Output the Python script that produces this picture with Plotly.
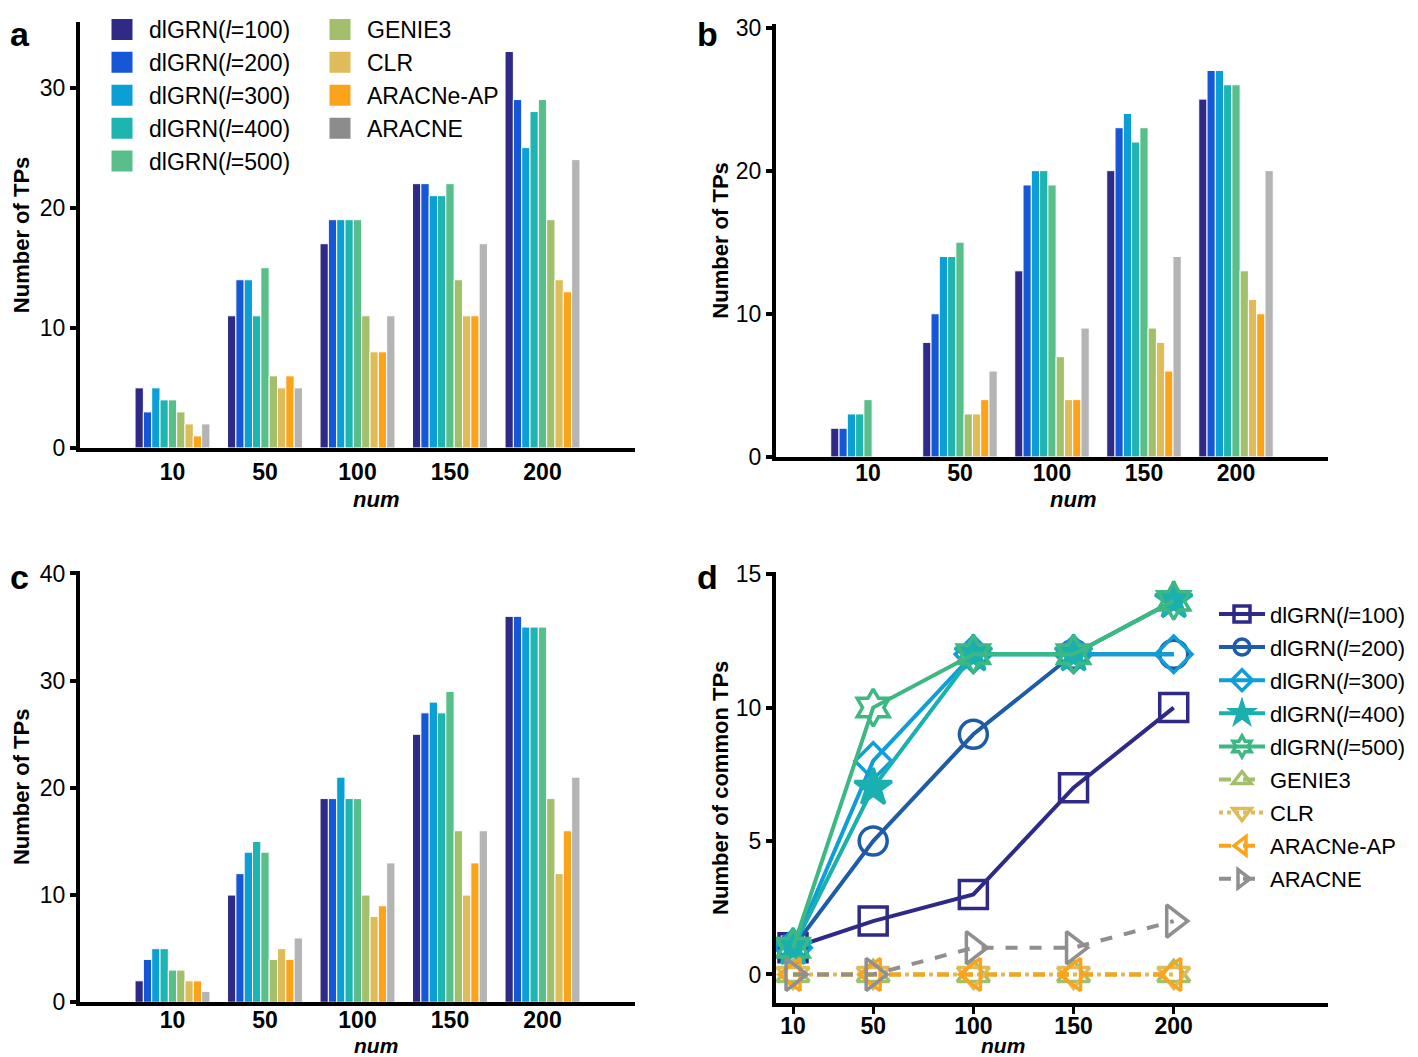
"""
dlGRN comparison figure: number of TPs (a-c) and common TPs (d)
"""
import plotly.graph_objects as go

W, H = 1418, 1057
OFFX, OFFY = 5, 8  # where the figure lands on the page
FW, FH = W - OFFX, H - OFFY

# ---- data ----
nums = ["10", "50", "100", "150", "200"]
nums_val = [10, 50, 100, 150, 200]
methods = ["dlGRN(<i>l</i>=100)", "dlGRN(<i>l</i>=200)", "dlGRN(<i>l</i>=300)",
           "dlGRN(<i>l</i>=400)", "dlGRN(<i>l</i>=500)", "GENIE3", "CLR",
           "ARACNe-AP", "ARACNE"]

# panel a: one list per method, over nums
a_dl100 = [5, 11, 17, 22, 33]
a_dl200 = [3, 14, 19, 22, 29]
a_dl300 = [5, 14, 19, 21, 25]
a_dl400 = [4, 11, 19, 21, 28]
a_dl500 = [4, 15, 19, 22, 29]
a_genie3 = [3, 6, 11, 14, 19]
a_clr = [2, 5, 8, 11, 14]
a_aracne_ap = [1, 6, 8, 11, 13]
a_aracne = [2, 5, 11, 17, 24]

# panel b
b_dl100 = [2, 8, 13, 20, 25]
b_dl200 = [2, 10, 19, 23, 27]
b_dl300 = [3, 14, 20, 24, 27]
b_dl400 = [3, 14, 20, 22, 26]
b_dl500 = [4, 15, 19, 23, 26]
b_genie3 = [0, 3, 7, 9, 13]
b_clr = [0, 3, 4, 8, 11]
b_aracne_ap = [0, 4, 4, 6, 10]
b_aracne = [0, 6, 9, 14, 20]

# panel c
c_dl100 = [2, 10, 19, 25, 36]
c_dl200 = [4, 12, 19, 27, 36]
c_dl300 = [5, 14, 21, 28, 35]
c_dl400 = [5, 15, 19, 27, 35]
c_dl500 = [3, 14, 19, 29, 35]
c_genie3 = [3, 4, 10, 16, 19]
c_clr = [2, 5, 8, 10, 12]
c_aracne_ap = [2, 4, 9, 13, 16]
c_aracne = [1, 6, 13, 16, 21]

# panel d: common TPs
d_dl100 = [1, 2, 3, 7, 10]
d_dl200 = [1, 5, 9, 12, 12]
d_dl300 = [1, 8, 12, 12, 12]
d_dl400 = [1, 7, 12, 12, 14]
d_dl500 = [1, 10, 12, 12, 14]
d_genie3 = [0, 0, 0, 0, 0]
d_clr = [0, 0, 0, 0, 0]
d_aracne_ap = [0, 0, 0, 0, 0]
d_aracne = [0, 0, 1, 1, 2]

# ---- styles ----
bar_colors = ["#2E2A86", "#1557D6", "#0AA0D6", "#1EB4B0", "#58BF8A",
              "#A2BF6B", "#DFBC5A", "#FCA31C", "#B4B4B4"]
legend_grey = "#8C8C8C"
line_colors = ["#2E2A86", "#1F5CA8", "#0E9ED8", "#1AB0B0", "#3DB883",
               "#A2BF6B", "#DFBC5A", "#FCA31C", "#8F8F8F"]
symbols = ["square-open", "circle-open", "diamond-open", "star", "hexagram-open",
           "triangle-up-open", "triangle-down-open", "triangle-left-open",
           "triangle-right-open"]
dashes = ["solid"] * 5 + ["dash", "dot", "dash", "dash"]

FONT = "Liberation Sans, Arial, Helvetica, sans-serif"


# screen pixel -> paper coords
def px_x(p):
    return (p - OFFX) / FW


def px_y(p):
    return 1 - (p - OFFY) / FH


fig = go.Figure()

panels = [
    ("x", "y", [a_dl100, a_dl200, a_dl300, a_dl400, a_dl500, a_genie3, a_clr, a_aracne_ap, a_aracne]),
    ("x2", "y2", [b_dl100, b_dl200, b_dl300, b_dl400, b_dl500, b_genie3, b_clr, b_aracne_ap, b_aracne]),
    ("x3", "y3", [c_dl100, c_dl200, c_dl300, c_dl400, c_dl500, c_genie3, c_clr, c_aracne_ap, c_aracne]),
]

for k, (xa, ya, series) in enumerate(panels):
    for i, vals in enumerate(series):
        fig.add_trace(go.Bar(
            x=nums, y=vals, name=methods[i],
            xaxis=xa, yaxis=ya,
            marker=dict(color=bar_colors[i], line=dict(color="white", width=1)),
            showlegend=False,
        ))

# legend-only entries for panel a: square swatches
for i in range(9):
    c = legend_grey if i == 8 else bar_colors[i]
    fig.add_trace(go.Scatter(
        x=[None], y=[None], name=methods[i], xaxis="x", yaxis="y",
        mode="markers",
        marker=dict(symbol="square", size=16, color=c, line=dict(color=c, width=5)),
        legend="legend" if i < 5 else "legend2",
        showlegend=True,
    ))

d_series = [d_dl100, d_dl200, d_dl300, d_dl400, d_dl500, d_genie3, d_clr, d_aracne_ap, d_aracne]
for i, vals in enumerate(d_series):
    fig.add_trace(go.Scatter(
        x=nums_val, y=vals, name=methods[i], xaxis="x4", yaxis="y4",
        mode="lines+markers",
        line=dict(color=line_colors[i], width=4, dash=dashes[i]),
        marker=dict(symbol=symbols[i], size=28, color=line_colors[i],
                    line=dict(color=line_colors[i], width=3.5)),
        legend="legend3", legendgroup="d%d" % i, cliponaxis=False,
    ))

axis_common = dict(showline=True, linewidth=4, linecolor="black", showgrid=False,
                   zeroline=False, mirror=False, automargin=False)
ytick_font = dict(family=FONT, size=23, color="black")
xtick_font = dict(family=FONT, size=23, color="black", weight="bold")
ytitle_font = dict(family=FONT, size=22, color="black", weight="bold")


def bar_xaxis(dom, anchor, shift):
    return dict(axis_common, domain=dom, anchor=anchor, type="category",
                range=[-1, 5], ticks="", tickfont=xtick_font,
                ticklabelstandoff=shift)


def yaxis(dom, anchor, rng, dtick, title, standoff=5):
    return dict(axis_common, domain=dom, anchor=anchor, range=rng, dtick=dtick,
                ticks="outside", ticklen=6, tickwidth=4, tickcolor="black",
                tickfont=ytick_font,
                title=dict(text=title, font=ytitle_font, standoff=standoff))


legend_common = dict(xanchor="left", yanchor="top", bgcolor="rgba(0,0,0,0)",
                     font=dict(family=FONT, size=23), tracegroupgap=0)

fig.update_layout(
    width=FW, height=FH,
    margin=dict(l=0, r=0, t=0, b=0),
    paper_bgcolor="white", plot_bgcolor="white",
    barmode="group", bargap=0.19, bargroupgap=0,
    font=dict(family=FONT, color="black"),
    xaxis=bar_xaxis([px_x(77), px_x(632)], "y", 0),
    yaxis=yaxis([px_y(445), px_y(17)], "x", [0, 35.46], 10, "Number of TPs"),
    xaxis2=bar_xaxis([px_x(773), px_x(1325)], "y2", -7),
    yaxis2=yaxis([px_y(454), px_y(19)], "x2", [0, 30.25], 10, "Number of TPs", 2),
    xaxis3=bar_xaxis([px_x(77), px_x(632)], "y3", -6),
    yaxis3=yaxis([px_y(1002), px_y(569)], "x3", [0, 40.2], 10, "Number of TPs"),
    xaxis4=dict(axis_common, domain=[px_x(773), px_x(1325)], anchor="y4",
                range=[1.5, 277], tickvals=nums_val, ticktext=nums,
                ticks="outside", ticklen=7, tickwidth=3, tickcolor="black",
                tickfont=xtick_font, ticklabelstandoff=-8),
    yaxis4=yaxis([px_y(1003), px_y(570)], "x4", [-1.08, 15.07], 5,
                 "Number of common TPs", 2),
    legend=dict(legend_common, x=px_x(92), y=px_y(3), itemwidth=44),
    legend2=dict(legend_common, x=px_x(310), y=px_y(3), itemwidth=44),
    legend3=dict(legend_common, x=px_x(1211), y=px_y(591), itemwidth=46,
                 font=dict(family=FONT, size=22), tracegroupgap=1.5),
)

# panel letters, kept inside the page
letters = [("a", 0, 1.0), ("b", px_x(692), 1.0),
           ("c", 0, px_y(554)), ("d", px_x(692), px_y(554))]
for t, x, y in letters:
    fig.add_annotation(text=t, x=x, y=y, xref="paper", yref="paper",
                       xanchor="left", yanchor="top", showarrow=False,
                       font=dict(family=FONT, size=34, weight="bold"))

num_pos = [(373, 497, 22), (1070, 497, 22), (373, 1045, 21), (1000, 1045, 21)]
for x, y, s in num_pos:
    fig.add_annotation(text="num", x=px_x(x), y=px_y(y), xref="paper", yref="paper",
                       xanchor="center", yanchor="middle", showarrow=False,
                       font=dict(family=FONT, size=s, weight="bold", style="italic"))

fig.write_html("out.html")
